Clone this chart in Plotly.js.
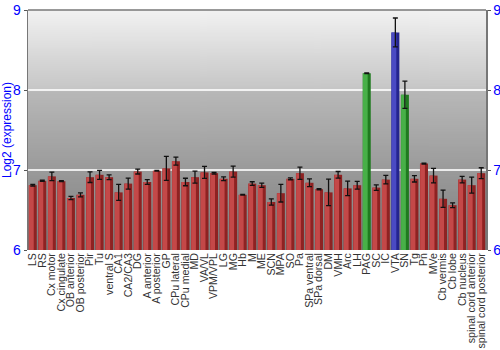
<!DOCTYPE html>
<html><head><meta charset="utf-8">
<script src="https://cdn.plot.ly/plotly-3.0.1.min.js"></script>
<style>html,body{margin:0;padding:0;background:#fff}#chart{width:500px;height:350px}</style>
</head><body><div id="chart"></div>
<script>
const regions = ["LS","RS","Cx motor","Cx cingulate","OB anterior","OB posterior","Pir","Tu","ventral S","CA1","CA2/CA3","DG","A anterior","A posterior","GP","CPu lateral","CPu medial","MD","VA/VL","VPM/VPL","LG","MG","Hb","M","ME","SCN","MPA","SO","Pa","SPa ventral","SPa dorsal","DM","VMH","Arc","LH","PAG","SC","IC","VTA","SN","Tg","Pn","MVe","Cb vermis","Cb lobe","Cb nucleus","spinal cord anterior","spinal cord posterior"];
const expression = [6.81,6.865,6.92,6.86,6.65,6.69,6.91,6.94,6.91,6.72,6.83,6.98,6.85,6.99,7.02,7.11,6.85,6.91,6.97,6.96,6.89,6.98,6.69,6.83,6.81,6.60,6.71,6.89,6.96,6.84,6.76,6.72,6.94,6.77,6.81,8.21,6.78,6.88,8.72,7.94,6.89,7.08,6.93,6.64,6.56,6.88,6.81,6.96];
const stderr = [0.01,0.008,0.053,0.006,0.02,0.025,0.066,0.056,0.03,0.10,0.068,0.03,0.03,0.005,0.15,0.05,0.047,0.075,0.075,0.01,0.023,0.068,0.004,0.023,0.027,0.04,0.11,0.012,0.077,0.048,0.007,0.166,0.041,0.09,0.048,0.005,0.035,0.054,0.18,0.17,0.04,0.006,0.09,0.108,0.03,0.04,0.10,0.068];
const group = regions.map(r => (r==="PAG"||r==="SN") ? "green" : (r==="VTA" ? "blue" : "red"));

const darkCol = {red:"#8e2222", green:"#1f7a1f", blue:"#24248e"};
const lightCol = {red:"#c44848", green:"#48b048", blue:"#4a4ac4"};

// gradient background image
const cv = document.createElement("canvas");
cv.width = 4; cv.height = 256;
const cx = cv.getContext("2d");
const g = cx.createLinearGradient(0,0,0,256);
g.addColorStop(0,"#f2f2f2");
g.addColorStop(0.33,"#c6c6c6");
g.addColorStop(0.34,"#b8b8b8");
g.addColorStop(1,"#7c7c7c");
cx.fillStyle = g; cx.fillRect(0,0,4,256);
const bgURI = cv.toDataURL();

const x = regions.map((r,i)=>i);
const traces = [
  {type:"bar", x:x, y:expression.map(v=>v-6), base:6, width:0.84,
   marker:{color:group.map(c=>darkCol[c]), line:{width:0}}, hoverinfo:"skip", showlegend:false},
  {type:"bar", x:x, y:expression.map(v=>v-6), base:6, width:0.5, offset:-0.4,
   marker:{color:group.map(c=>lightCol[c]), line:{width:0}}, hoverinfo:"skip", showlegend:false},
  {type:"scatter", mode:"markers", x:x, y:expression, marker:{size:1, opacity:0},
   error_y:{type:"data", array:stderr, visible:true, color:"#111", thickness:1.3, width:2.5},
   showlegend:false, hoverinfo:"skip"},
  {type:"scatter", mode:"markers", x:[0], y:[6], yaxis:"y2", marker:{opacity:0}, showlegend:false, hoverinfo:"skip"}
];

const layout = {
  width:500, height:350,
  margin:{l:28, r:14, t:10, b:100},
  paper_bgcolor:"#fff", plot_bgcolor:"rgba(0,0,0,0)",
  barmode:"overlay",
  font:{family:"Liberation Sans, Arial, sans-serif"},
  images:[{source:bgURI, xref:"paper", yref:"paper", x:0, y:1, sizex:1, sizey:1, sizing:"stretch", layer:"below"}],
  xaxis:{range:[-0.5,47.5], tickmode:"array", tickvals:x, ticktext:regions, tickangle:-90,
    tickfont:{size:10.6, color:"#333"}, showgrid:false, zeroline:false, showline:false, ticks:"", fixedrange:true},
  yaxis:{range:[6,9], dtick:1, tickfont:{size:14, color:"#0000ff"}, showgrid:true,
    gridcolor:"rgba(255,255,255,0.8)", gridwidth:1.5, zeroline:false,
    showline:true, linecolor:"#777", linewidth:1.5, ticks:"outside", ticklen:3, tickcolor:"#555",
    title:{text:"Log2 (expression)", font:{size:12, color:"#0000ff"}, standoff:4}},
  yaxis2:{range:[6,9], dtick:1, overlaying:"y", side:"right", tickfont:{size:14, color:"#0000ff"},
    showgrid:false, zeroline:false, showline:true, linecolor:"#777", linewidth:1.5,
    ticks:"outside", ticklen:3, tickcolor:"#555"},
  shapes:[{type:"line", xref:"paper", yref:"paper", x0:0, x1:1, y0:1, y1:1, line:{color:"#777", width:1.5}}]
};
Plotly.newPlot("chart", traces, layout, {displayModeBar:false, staticPlot:true});
</script></body></html>
